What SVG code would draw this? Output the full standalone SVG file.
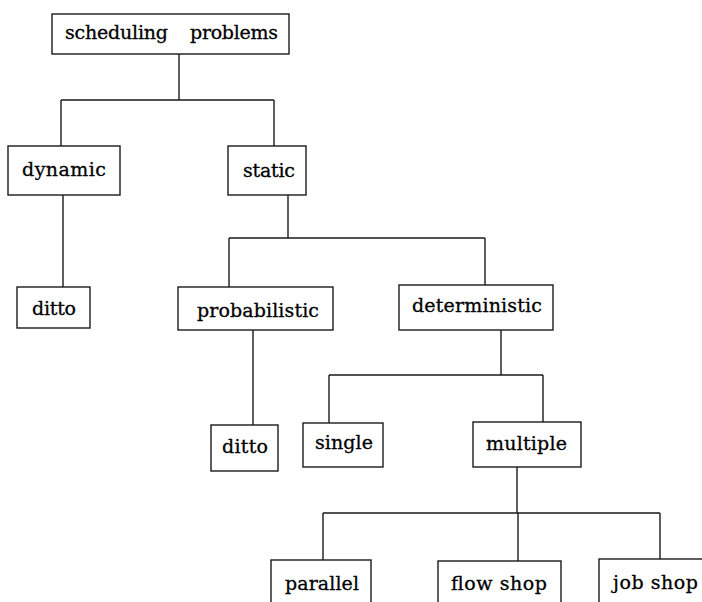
<svg xmlns="http://www.w3.org/2000/svg" width="702" height="602" viewBox="0 0 702 602">
<style>
.box{fill:none;stroke:#1a1a1a;stroke-width:1.4}
.ln{fill:none;stroke:#1a1a1a;stroke-width:1.4}
text{font-family:"DejaVu Serif","Liberation Serif",serif;font-size:19px;fill:#000;stroke:#000;stroke-width:0.3}
</style>
<rect width="702" height="602" fill="#fff"/>
<g id="connectors">
<path class="ln" d="M179 54V100M61 100H274M61 100V146M274 100V146"/>
<path class="ln" d="M63 195V287"/>
<path class="ln" d="M288 195V238M229 238H485M229 238V287M485 238V285"/>
<path class="ln" d="M253 330V425"/>
<path class="ln" d="M501 330V375M329 375H543M329 375V423M543 375V422"/>
<path class="ln" d="M517 467V513M323 513H660M323 513V560M518 513V561M660 513V559"/>
</g>
<g id="root"><rect class="box" x="52" y="14" width="237" height="40"/><text x="65" y="39" textLength="103">scheduling</text><text x="190" y="39" textLength="88">problems</text></g>
<g id="dynamic"><rect class="box" x="8" y="146" width="112" height="49"/><text x="22" y="176" textLength="84">dynamic</text></g>
<g id="static"><rect class="box" x="228" y="146" width="78" height="49"/><text x="243" y="177" textLength="52">static</text></g>
<g id="ditto1"><rect class="box" x="17" y="287" width="73" height="41"/><text x="32" y="315" textLength="44">ditto</text></g>
<g id="probabilistic"><rect class="box" x="178" y="287" width="155" height="43"/><text x="197" y="317" textLength="122">probabilistic</text></g>
<g id="deterministic"><rect class="box" x="399" y="285" width="154" height="45"/><text x="412" y="312" textLength="130">deterministic</text></g>
<g id="ditto2"><rect class="box" x="211" y="425" width="67" height="46"/><text x="222" y="453" textLength="46">ditto</text></g>
<g id="single"><rect class="box" x="303" y="423" width="80" height="44"/><text x="315" y="449" textLength="58">single</text></g>
<g id="multiple"><rect class="box" x="473" y="422" width="108" height="45"/><text x="486" y="450" textLength="81">multiple</text></g>
<g id="parallel"><rect class="box" x="271" y="560" width="100" height="60"/><text x="285" y="590" textLength="74">parallel</text></g>
<g id="flowshop"><rect class="box" x="438" y="561" width="123" height="60"/><text x="451" y="590" textLength="96">flow shop</text></g>
<g id="jobshop"><rect class="box" x="599" y="559" width="130" height="60"/><text x="613" y="589" textLength="85">job shop</text></g>
</svg>
